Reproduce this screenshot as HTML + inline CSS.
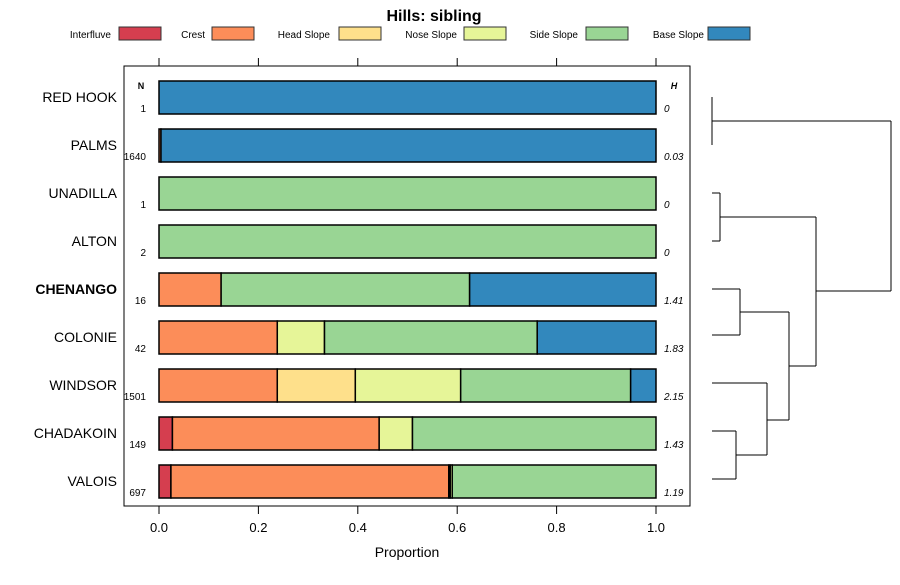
<!DOCTYPE html>
<html><head><meta charset="utf-8"><style>
body{margin:0;background:#fff;font-family:"Liberation Sans",sans-serif}
svg text{font-family:"Liberation Sans",sans-serif}
</style></head><body>
<svg id="c" width="900" height="580" xmlns="http://www.w3.org/2000/svg"></svg>
<script>
const categories=["RED HOOK","PALMS","UNADILLA","ALTON","CHENANGO","COLONIE","WINDSOR","CHADAKOIN","VALOIS"];
const classes=["Interfluve","Crest","Head Slope","Nose Slope","Side Slope","Base Slope"];
const colors=["#D53E4F","#FC8D59","#FEE08B","#E6F598","#99D594","#3288BD"];
const interfluve=[0,0,0,0,0,0,0,0.027,0.024];
const crest=[0,0.004,0,0,0.125,0.238,0.238,0.416,0.559];
const headSlope=[0,0,0,0,0,0,0.157,0,0.003];
const noseSlope=[0,0,0,0,0,0.095,0.212,0.067,0.004];
const sideSlope=[0,0,1,1,0.5,0.428,0.342,0.49,0.41];
const baseSlope=[1,0.996,0,0,0.375,0.239,0.051,0,0];
const nValues=["1","1640","1","2","16","42","1501","149","697"];
const hValues=["0","0.03","0","0","1.41","1.83","2.15","1.43","1.19"];
const xTicks=[0,0.2,0.4,0.6,0.8,1.0];
const series=[interfluve,crest,headSlope,noseSlope,sideSlope,baseSlope];

const svg=document.getElementById('c');
const NS="http://www.w3.org/2000/svg";
function el(t,a,txt){const e=document.createElementNS(NS,t);for(const k in a)e.setAttribute(k,a[k]);if(txt!==undefined)e.textContent=txt;svg.appendChild(e);return e;}
const x=v=>159+v*497;
const y=i=>97+i*48;

let t=el('text',{x:434,y:21,'text-anchor':'middle','font-size':16,'font-weight':'bold'},'Hills: sibling');

const legTextEnd=[111,205,330,457,578,704],legBox=[119,212,339,464,586,708];
classes.forEach((c,i)=>{
 let tt=el('text',{x:legTextEnd[i],y:38,'text-anchor':'end','font-size':10},c);
 
 let r=el('rect',{x:legBox[i],y:27,width:42,height:13,fill:colors[i],stroke:'#333','stroke-width':1});
 
});
let box=el('rect',{x:124,y:66,width:566,height:440,fill:'none',stroke:'#000','stroke-width':1});

xTicks.forEach(v=>{
 let a=el('line',{x1:x(v),x2:x(v),y1:58,y2:66,stroke:'#000'});
 let b=el('line',{x1:x(v),x2:x(v),y1:506,y2:514,stroke:'#000'});
 let l=el('text',{x:x(v),y:532,'text-anchor':'middle','font-size':13},v.toFixed(1));
});
let xt=el('text',{x:407,y:557,'text-anchor':'middle','font-size':14},'Proportion');

let nh=el('text',{x:141,y:89,'text-anchor':'middle','font-size':9,'font-weight':'bold'},'N');
let hh=el('text',{x:674,y:89,'text-anchor':'middle','font-size':9,'font-weight':'bold','font-style':'italic'},'H');
categories.forEach((c,i)=>{
 const yc=y(i);
 let lab=el('text',{x:117,y:yc+5,'text-anchor':'end','font-size':14,'font-weight':c==='CHENANGO'?'bold':'normal'},c);
 
 let cum=0;
 series.forEach((s,k)=>{
  const v=s[i];if(v<=0)return;
  let r=el('rect',{x:x(cum),y:yc-16,width:x(cum+v)-x(cum),height:33,fill:colors[k],stroke:'#000','stroke-width':1.5});
  
  cum+=v;
 });
 let n=el('text',{x:146,y:yc+15,'text-anchor':'end','font-size':10},nValues[i]);
 let h=el('text',{x:664,y:yc+15,'font-size':10,'font-style':'italic'},hValues[i]);
});
const dend=[[712,97,712,145],[712,121,891,121],[712,193,720,193],[712,241,720,241],[720,193,720,241],[720,217,816,217],
[712,289,740,289],[712,335,740,335],[740,289,740,335],[740,312,789,312],[712,383,767,383],[712,431,736,431],[712,479,736,479],[736,431,736,479],[736,455,767,455],[767,383,767,455],[767,420,789,420],[789,312,789,420],[789,366,816,366],[816,217,816,291],[816,291,816,366],[816,291,891,291],[891,121,891,291]];
dend.forEach(d=>{let l=el('line',{x1:d[0],y1:d[1],x2:d[2],y2:d[3],stroke:'#000','stroke-width':1});});
</script>
</body></html>
